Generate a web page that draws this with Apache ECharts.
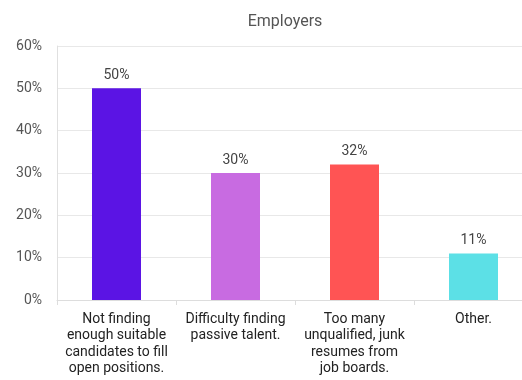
<!DOCTYPE html>
<html><head><meta charset="utf-8">
<script src="https://cdn.jsdelivr.net/npm/echarts@6/dist/echarts.min.js"></script>
<style>html,body{margin:0;padding:0;background:#fff}#c{width:522px;height:380px}</style>
</head><body><div id="c"></div>
<script>
const categories = ["Not finding\nenough suitable\ncandidates to fill\nopen positions.", "Difficulty finding\npassive talent.", "Too many\nunqualified, junk\nresumes from\njob boards.", "Other."];
const values = [50, 30, 32, 11];
const colors = ["#5B14E4", "#C86BE1", "#FF5454", "#5CE0E6"];
const yTicks = [0, 10, 20, 30, 40, 50, 60];

const chart = echarts.init(document.getElementById('c'));
chart.setOption({
  animation: false,
  title: { text: 'Employers', left: 280, top: 9, textAlign: 'center',
    textStyle: { fontFamily: 'Roboto', fontWeight: 'normal', fontSize: 16, color: '#555' } },
  grid: { left: 57, top: 46, width: 476, height: 254, outerBoundsMode: 'none', containLabel: false },
  xAxis: { type: 'category', data: categories,
    axisLine: { lineStyle: { color: '#ddd' } },
    axisTick: { show: true, length: 5, lineStyle: { color: '#ddd' } },
    axisLabel: { interval: 0, fontFamily: 'Roboto', fontSize: 14, lineHeight: 16.5, color: '#222', margin: 11 } },
  yAxis: { type: 'value', min: 0, max: 60, interval: 10,
    axisLine: { show: true, lineStyle: { color: '#e0e0e0' } },
    splitLine: { lineStyle: { color: '#e8e8e8' } },
    axisLabel: { fontFamily: 'Roboto', fontSize: 14, color: '#555', margin: 15,
      formatter: v => yTicks.includes(v) ? v + '%' : '' } },
  series: [{ type: 'bar', barWidth: 49,
    data: values.map((v, i) => ({ value: v, itemStyle: { color: colors[i] } })),
    label: { show: true, position: 'top', distance: 6, formatter: '{c}%', fontFamily: 'Roboto', fontSize: 14, color: '#444' } }]
});
</script></body></html>
